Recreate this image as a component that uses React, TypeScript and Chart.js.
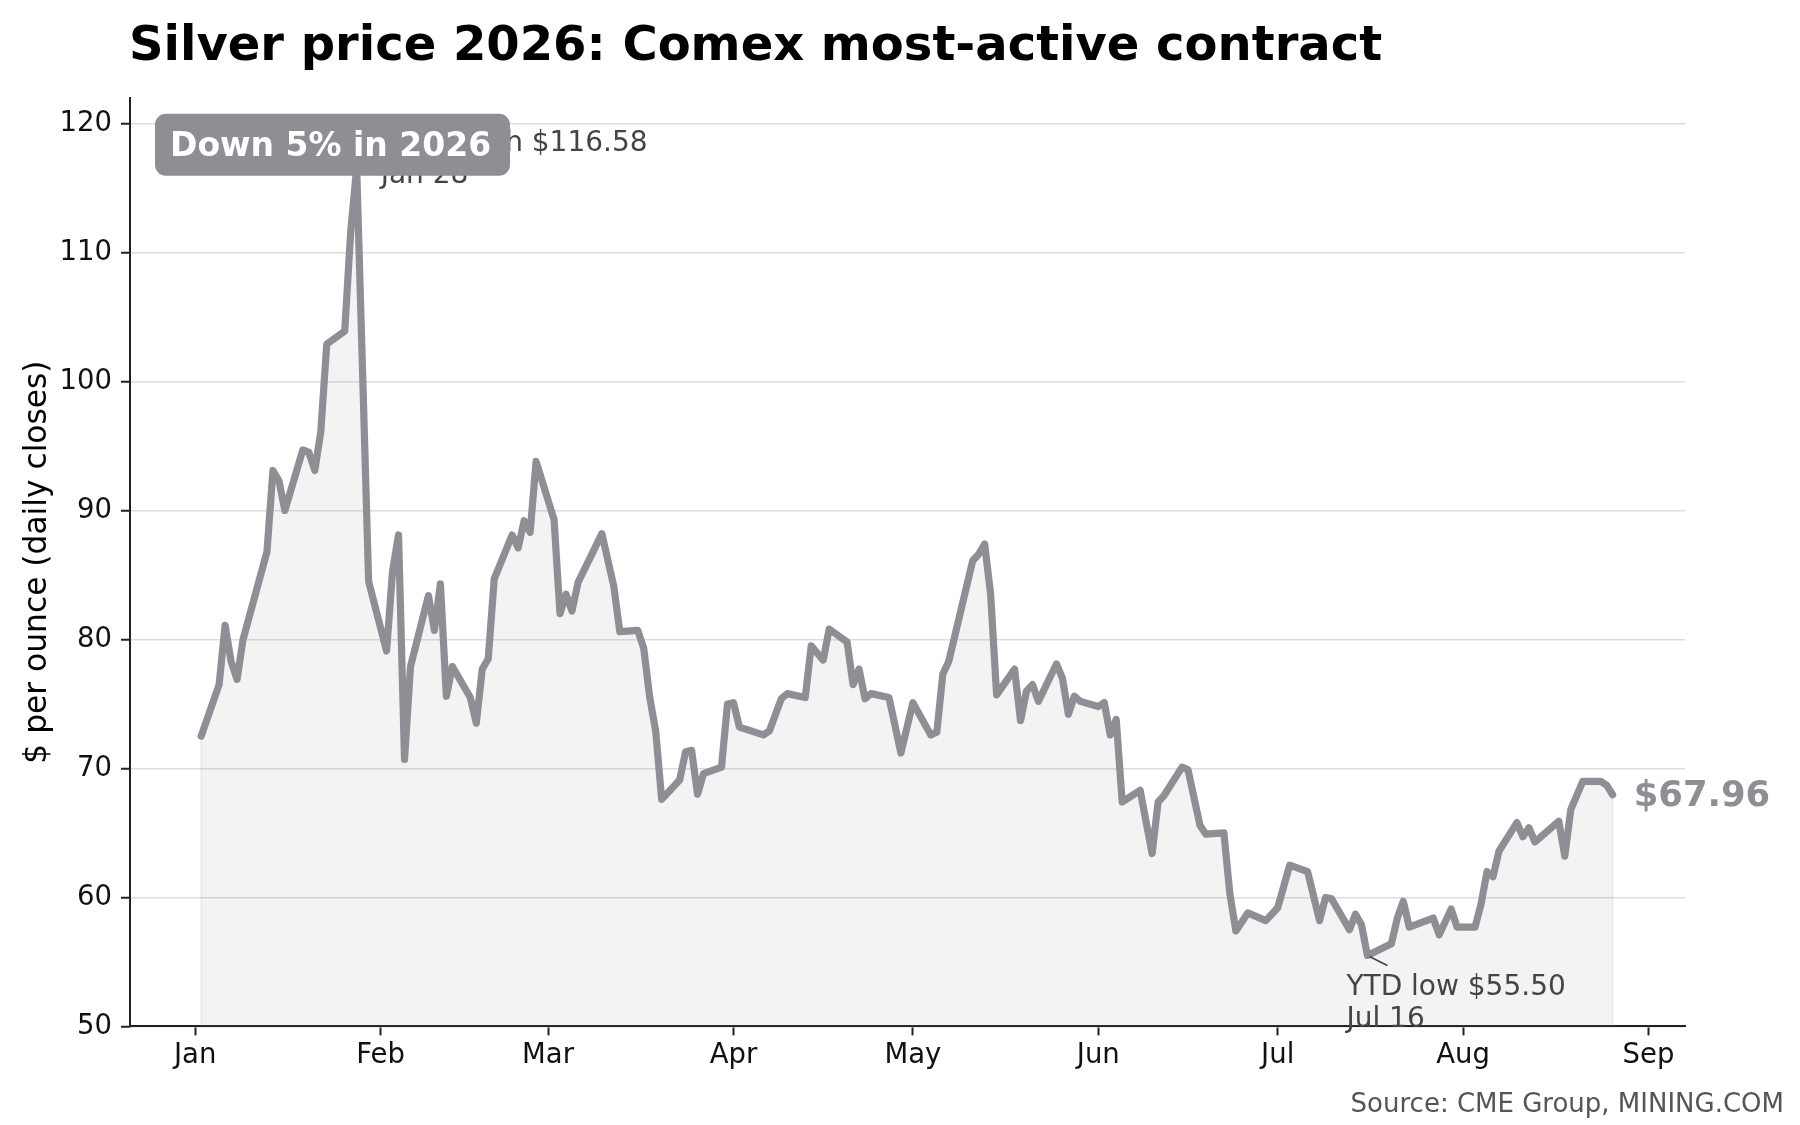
import React, { useEffect, useRef } from "react";
import { Chart, registerables } from "chart.js";

Chart.register(...registerables);

// ---------- data ----------
const DATES = [
  "2026-01-02", "2026-01-05", "2026-01-06", "2026-01-07", "2026-01-08", "2026-01-09",
  "2026-01-13", "2026-01-14", "2026-01-15", "2026-01-16", "2026-01-19", "2026-01-20",
  "2026-01-21", "2026-01-22", "2026-01-23", "2026-01-26", "2026-01-27", "2026-01-28",
  "2026-01-30",
  "2026-02-02", "2026-02-03", "2026-02-04", "2026-02-05", "2026-02-06", "2026-02-09",
  "2026-02-10", "2026-02-11", "2026-02-12", "2026-02-13", "2026-02-16", "2026-02-17",
  "2026-02-18", "2026-02-19", "2026-02-20", "2026-02-23", "2026-02-24", "2026-02-25",
  "2026-02-26", "2026-02-27",
  "2026-03-02", "2026-03-03", "2026-03-04", "2026-03-05", "2026-03-06", "2026-03-10",
  "2026-03-12", "2026-03-13", "2026-03-16", "2026-03-17", "2026-03-18", "2026-03-19",
  "2026-03-20", "2026-03-23", "2026-03-24", "2026-03-25", "2026-03-26", "2026-03-27",
  "2026-03-30", "2026-03-31",
  "2026-04-01", "2026-04-02", "2026-04-06", "2026-04-07", "2026-04-09", "2026-04-10",
  "2026-04-13", "2026-04-14", "2026-04-16", "2026-04-17", "2026-04-20", "2026-04-21",
  "2026-04-22", "2026-04-23", "2026-04-24", "2026-04-27", "2026-04-29",
  "2026-05-01", "2026-05-04", "2026-05-05", "2026-05-06", "2026-05-07", "2026-05-11",
  "2026-05-12", "2026-05-13", "2026-05-14", "2026-05-15", "2026-05-18", "2026-05-19",
  "2026-05-20", "2026-05-21", "2026-05-22", "2026-05-25", "2026-05-26", "2026-05-27",
  "2026-05-28", "2026-05-29",
  "2026-06-01", "2026-06-02", "2026-06-03", "2026-06-04", "2026-06-05", "2026-06-08",
  "2026-06-10", "2026-06-11", "2026-06-12", "2026-06-15", "2026-06-16", "2026-06-18",
  "2026-06-19", "2026-06-22", "2026-06-23", "2026-06-24", "2026-06-26", "2026-06-29",
  "2026-06-30",
  "2026-07-01", "2026-07-03", "2026-07-06", "2026-07-08", "2026-07-09", "2026-07-10",
  "2026-07-13", "2026-07-14", "2026-07-15", "2026-07-16", "2026-07-20", "2026-07-21",
  "2026-07-22", "2026-07-23", "2026-07-27", "2026-07-28", "2026-07-30", "2026-07-31",
  "2026-08-03", "2026-08-04", "2026-08-05", "2026-08-06", "2026-08-07", "2026-08-10",
  "2026-08-11", "2026-08-12", "2026-08-13", "2026-08-17", "2026-08-18", "2026-08-19",
  "2026-08-21", "2026-08-24", "2026-08-25", "2026-08-26",
];

const PRICES = [
  72.5, 76.5, 81.1, 78.3, 76.9, 80.0,
  86.8, 93.1, 92.3, 90.0, 94.7, 94.5,
  93.1, 96.1, 102.9, 103.9, 111.6, 116.58,
  84.5,
  79.1, 85.3, 88.1, 70.7, 77.9, 83.4,
  80.7, 84.3, 75.6, 77.9, 75.5, 73.5,
  77.7, 78.5, 84.7, 88.1, 87.1, 89.2,
  88.3, 93.8,
  89.3, 82.0, 83.5, 82.2, 84.4, 88.2,
  84.1, 80.6, 80.7, 79.3, 75.5, 72.9,
  67.6, 69.1, 71.3, 71.4, 68.0, 69.6,
  70.1, 75.0,
  75.1, 73.2, 72.6, 72.9, 75.4, 75.8,
  75.5, 79.5, 78.4, 80.8, 79.8, 76.5,
  77.7, 75.4, 75.8, 75.5, 71.2,
  75.1, 72.6, 72.8, 77.3, 78.3, 86.1,
  86.6, 87.4, 83.5, 75.7, 77.7, 73.7,
  76.0, 76.5, 75.2, 78.1, 77.0, 74.2,
  75.6, 75.2,
  74.8, 75.1, 72.6, 73.8, 67.4, 68.3,
  63.4, 67.4, 67.9, 70.1, 69.9, 65.6,
  64.9, 65.0, 60.3, 57.4, 58.8, 58.2,
  58.7,
  59.2, 62.5, 62.0, 58.2, 60.0, 59.9,
  57.5, 58.7, 57.9, 55.5, 56.4, 58.4,
  59.7, 57.7, 58.4, 57.1, 59.1, 57.7,
  57.7, 59.5, 62.0, 61.6, 63.6, 65.8,
  64.7, 65.4, 64.3, 65.9, 63.2, 66.8,
  69.0, 69.0, 68.7, 67.96,
];

const MONTH_LABELS = ["Jan", "Feb", "Mar", "Apr", "May", "Jun", "Jul", "Aug", "Sep"];
const MONTH_STARTS = [
  "2026-01-01", "2026-02-01", "2026-03-01", "2026-04-01", "2026-05-01",
  "2026-06-01", "2026-07-01", "2026-08-01", "2026-09-01",
];
const Y_TICK_STEP = 10;

const TITLE = "Silver price 2026: Comex most-active contract";
const Y_LABEL = "$ per ounce (daily closes)";
const BADGE = "Down 5% in 2026";
const SOURCE = "Source: CME Group, MINING.COM";

// ---------- helpers ----------
const FONT = "'DejaVu Sans', sans-serif";
const LINE_COLOR = "#8e8f94";
const DAY_MS = 86400000;
const YEAR_START = Date.UTC(2026, 0, 1);
const toDay = (s: string) => {
  const [yy, mm, dd] = s.split("-").map(Number);
  return (Date.UTC(yy, mm - 1, dd) - YEAR_START) / DAY_MS;
};
const fmtDate = (s: string) => {
  const [, mm, dd] = s.split("-").map(Number);
  return `${MONTH_LABELS[mm - 1]} ${dd}`;
};

const DAYS = DATES.map(toDay);
const MONTH_DAYS = MONTH_STARTS.map(toDay);

const textPlugin = {
  id: "chartTexts",
  beforeDatasetsDraw(chart: any) {
    const { ctx, chartArea, scales } = chart;
    const x = scales.x;
    const y = scales.y;
    ctx.save();
    ctx.strokeStyle = "rgba(142,143,148,0.16)";
    ctx.lineWidth = 1.5;
    [0, DAYS.length - 1].forEach((i) => {
      const px = x.getPixelForValue(DAYS[i]);
      ctx.beginPath();
      ctx.moveTo(px, y.getPixelForValue(PRICES[i]));
      ctx.lineTo(px, chartArea.bottom);
      ctx.stroke();
    });
    ctx.restore();
  },
  afterDraw(chart: any) {
    const { ctx, chartArea, scales } = chart;
    const x = scales.x;
    const y = scales.y;
    ctx.save();

    // title
    ctx.fillStyle = "#000";
    ctx.textAlign = "left";
    ctx.textBaseline = "alphabetic";
    ctx.font = `bold 48px ${FONT}`;
    ctx.fillText(TITLE, chartArea.left - 1, 60);

    // y axis label
    ctx.save();
    ctx.translate(46, (chartArea.top + chartArea.bottom) / 2);
    ctx.rotate(-Math.PI / 2);
    ctx.textAlign = "center";
    ctx.font = `31.3px ${FONT}`;
    ctx.fillStyle = "#000";
    ctx.fillText(Y_LABEL, 0, 0);
    ctx.restore();

    // YTD high annotation
    let hi = 0;
    let lo = 0;
    PRICES.forEach((v, i) => {
      if (v > PRICES[hi]) hi = i;
      if (v < PRICES[lo]) lo = i;
    });
    const hx = x.getPixelForValue(DAYS[hi]);
    const hy = y.getPixelForValue(PRICES[hi]);
    ctx.font = `28px ${FONT}`;
    ctx.fillStyle = "#444";
    ctx.textAlign = "left";
    ctx.fillText(`YTD high $${PRICES[hi].toFixed(2)}`, hx + 40.5, hy - 17);
    ctx.fillText(fmtDate(DATES[hi]), hx + 24, hy + 15);

    // YTD low annotation
    const lx = x.getPixelForValue(DAYS[lo]);
    const ly = y.getPixelForValue(PRICES[lo]);
    ctx.strokeStyle = "#444";
    ctx.lineWidth = 1.5;
    ctx.beginPath();
    ctx.moveTo(lx + 2, ly + 1);
    ctx.lineTo(lx + 20, ly + 10);
    ctx.stroke();
    ctx.fillText(`YTD low $${PRICES[lo].toFixed(2)}`, lx - 21, ly + 40);
    ctx.fillText(fmtDate(DATES[lo]), lx - 21, ly + 72);

    // badge
    const bx = chartArea.left + 25;
    const by = chartArea.top + 16;
    const bw = 355;
    const bh = 62;
    ctx.fillStyle = LINE_COLOR;
    ctx.beginPath();
    ctx.roundRect(bx, by, bw, bh, 11);
    ctx.fill();
    ctx.fillStyle = "#fff";
    ctx.font = `bold 33px ${FONT}`;
    ctx.fillText(BADGE, bx + 15, by + 42);

    // last value label
    const n = PRICES.length - 1;
    const ex = x.getPixelForValue(DAYS[n]);
    const ey = y.getPixelForValue(PRICES[n]);
    ctx.fillStyle = LINE_COLOR;
    ctx.font = `bold 35.4px ${FONT}`;
    ctx.fillText(`$${PRICES[n].toFixed(2)}`, ex + 21, ey + 11);

    // source
    ctx.fillStyle = "#555";
    ctx.font = `26px ${FONT}`;
    ctx.textAlign = "right";
    ctx.fillText(SOURCE, 1784, 1112);

    ctx.restore();
  },
};

export default function App() {
  const ref = useRef<HTMLCanvasElement | null>(null);

  useEffect(() => {
    if (!ref.current) return;
    const chart = new Chart(ref.current, {
      type: "line",
      data: {
        datasets: [
          {
            data: DAYS.map((d, i) => ({ x: d, y: PRICES[i] })),
            borderColor: LINE_COLOR,
            borderWidth: 7.2,
            pointRadius: 0,
            tension: 0,
            fill: "start",
            backgroundColor: "rgba(142,143,148,0.11)",
            borderJoinStyle: "round",
            borderCapStyle: "round",
          },
        ],
      },
      options: {
        animation: false,
        responsive: false,
        devicePixelRatio: 1,
        layout: { padding: { top: 97.7, right: 115, left: 0, bottom: 0 } },
        plugins: {
          legend: { display: false },
          tooltip: { enabled: false },
          title: { display: false },
        },
        scales: {
          x: {
            type: "linear",
            min: -10.9,
            max: 249.1,
            afterBuildTicks: (s: any) => {
              s.ticks = MONTH_DAYS.map((v) => ({ value: v }));
            },
            afterFit: (s: any) => {
              s.height = 98.6;
            },
            grid: {
              drawOnChartArea: false,
              drawTicks: true,
              tickLength: 9,
              tickColor: "#222",
              tickWidth: 2,
            },
            border: { display: true, color: "#222", width: 2 },
            ticks: {
              autoSkip: false,
              maxRotation: 0,
              padding: 3.5,
              color: "#111",
              font: { family: FONT, size: 27.5 },
              callback: (v: any) => {
                const i = MONTH_DAYS.indexOf(Number(v));
                return i >= 0 ? MONTH_LABELS[i] : "";
              },
            },
          },
          y: {
            type: "linear",
            min: 50,
            max: 122,
            afterFit: (s: any) => {
              s.width = 130;
            },
            grid: {
              color: "#dddddd",
              lineWidth: 1.5,
              drawTicks: true,
              tickLength: 9,
              tickColor: "#222",
              tickWidth: 2,
            },
            border: { display: true, color: "#222", width: 2 },
            ticks: {
              stepSize: Y_TICK_STEP,
              includeBounds: false,
              padding: 9,
              color: "#111",
              font: { family: FONT, size: 27.5 },
            },
          },
        },
      },
      plugins: [textPlugin],
    } as any);
    return () => chart.destroy();
  }, []);

  return (
    <div
      style={{
        position: "fixed",
        left: 0,
        top: 0,
        width: 1800,
        height: 1125,
        background: "#fff",
      }}
    >
      <canvas ref={ref} width={1800} height={1125} style={{ width: 1800, height: 1125 }} />
    </div>
  );
}
